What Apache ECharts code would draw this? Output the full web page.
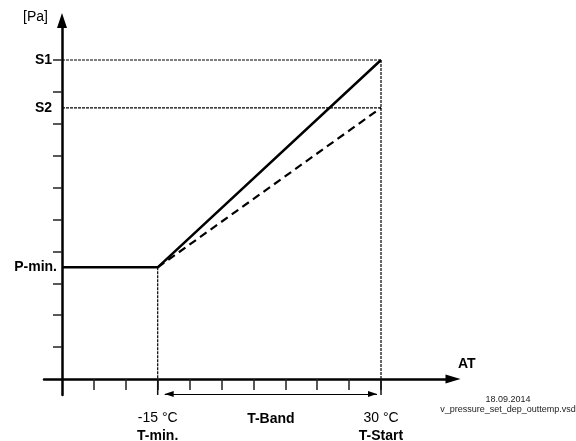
<!DOCTYPE html>
<html>
<head>
<meta charset="utf-8">
<script src="https://cdn.jsdelivr.net/npm/echarts@6/dist/echarts.min.js"></script>
<style>html,body{margin:0;padding:0;background:#fff}#c{width:576px;height:441px}</style>
</head>
<body>
<div id="c"></div>
<script>
// ---- data ----
const tempPoints = [-15, 30];                 // outdoor temperature (°C): T-min., T-Start
const tempValueLabels = ['-15 °C', '30 °C'];
const tempNameLabels = ['T-min.', 'T-Start'];
const ticksBelowTMin = 3;                     // x ticks between origin and T-min.
const ticksInBand = 7;                        // x ticks between T-min. and T-Start
const pressureLevels = [3.5, 8.5, 10];        // P-min., S2, S1 (y tick units)
const pressureLabels = ['P-min.', 'S2', 'S1'];
const yTickValues = [1, 2, 3, 4, 5, 6, 7, 8, 9, 10];
const bandLabel = 'T-Band';
const xAxisName = 'AT';
const yAxisName = '[Pa]';
const footnote = ['18.09.2014', 'v_pressure_set_dep_outtemp.vsd'];

const T_MIN = tempPoints[0], T_START = tempPoints[1];
const P_MIN = pressureLevels[0], S2 = pressureLevels[1], S1 = pressureLevels[2];
const X_STEP = (T_START - T_MIN) / ticksInBand;
const X_ORIGIN = T_MIN - ticksBelowTMin * X_STEP;
const xTickValues = [];
for (let k = 1; k <= ticksBelowTMin + ticksInBand; k++) xTickValues.push(X_ORIGIN + k * X_STEP);

// ---- layout (pixels) ----
const PX = 31.9;               // pixels per tick unit
const originPx = [62, 379];
const gridLeft = 44, gridRight = 453, gridTop = 20.5, gridBottom = 395;
const xMin = X_ORIGIN - (originPx[0] - gridLeft) / PX * X_STEP;
const xMax = X_ORIGIN + (gridRight - originPx[0]) / PX * X_STEP;
const yMin = -(gridBottom - originPx[1]) / PX;
const yMax = (originPx[1] - gridTop) / PX;
const yAxisOffset = -(originPx[0] - gridLeft);
const BELOW = yMin;            // bottom end of the y range (stub below the x axis)
const BAND_Y = -15 / PX;       // T-Band arrow level
const BAND_GAP = [7, 4];       // px gap between the arrow tips and the vertical lines
const bandFrom = T_MIN + BAND_GAP[0] / PX * X_STEP;
const bandTo = T_START - BAND_GAP[1] / PX * X_STEP;

const FONT = "'Liberation Sans', Arial, sans-serif";
const chart = echarts.init(document.getElementById('c'), null, {renderer: 'canvas'});

const thin = {color: '#000', width: 1.2, type: [3, 1]};
function seg(data, style) {
  return {type: 'line', data: data, symbol: 'none', silent: true, lineStyle: style, z: 2};
}

chart.setOption({
  animation: false,
  backgroundColor: '#fff',
  grid: {left: gridLeft, top: gridTop, right: 576 - gridRight, bottom: 441 - gridBottom,
         containLabel: false, outerBoundsMode: 'none'},
  xAxis: {
    type: 'value', min: xMin, max: xMax,
    name: xAxisName, nameLocation: 'end', nameGap: 5,
    nameTextStyle: {fontFamily: FONT, fontSize: 14, fontWeight: 'bold', color: '#000',
                    align: 'left', verticalAlign: 'bottom', padding: [0, 0, 8, 0]},
    axisLine: {onZero: true, symbol: ['none', 'triangle'], symbolSize: [9, 15],
               lineStyle: {color: '#000', width: 2.5}},
    axisTick: {show: true, inside: false, length: 11, customValues: xTickValues,
               lineStyle: {color: '#222', width: 1.5}},
    axisLabel: {show: true, customValues: tempPoints, margin: 14,
      formatter: function (v) {
        const i = tempPoints.findIndex(t => Math.abs(t - v) < 1e-6);
        return i < 0 ? '' : '{a|' + tempValueLabels[i] + '}\n{b|' + tempNameLabels[i] + '}';
      },
      rich: {
        a: {fontFamily: FONT, fontSize: 14, color: '#000', lineHeight: 18},
        b: {fontFamily: FONT, fontSize: 14, fontWeight: 'bold', color: '#000', lineHeight: 18}
      }},
    splitLine: {show: false}
  },
  yAxis: {
    type: 'value', min: yMin, max: yMax, position: 'left', offset: yAxisOffset,
    name: yAxisName, nameLocation: 'end', nameGap: 3,
    nameTextStyle: {fontFamily: FONT, fontSize: 14, color: '#000',
                    align: 'right', verticalAlign: 'middle', padding: [0, 14, 0, 0]},
    axisLine: {onZero: false, symbol: ['none', 'triangle'], symbolSize: [10, 15],
               lineStyle: {color: '#000', width: 2.5}},
    axisTick: {show: true, inside: false, length: 9, customValues: yTickValues,
               lineStyle: {color: '#222', width: 1.5}},
    axisLabel: {show: true, customValues: pressureLevels, margin: 5,
      formatter: function (v) {
        const i = pressureLevels.findIndex(p => Math.abs(p - v) < 1e-6);
        if (i < 0) return '';
        return (i === 0 ? '{p|' : '{s|') + pressureLabels[i] + '}';
      },
      rich: {
        p: {fontFamily: FONT, fontSize: 14, fontWeight: 'bold', color: '#000'},
        s: {fontFamily: FONT, fontSize: 14, fontWeight: 'bold', color: '#000', padding: [0, 5, 0, 0]}
      }},
    splitLine: {show: false}
  },
  series: [
    seg([[X_ORIGIN, S1], [T_START, S1]], thin),
    seg([[X_ORIGIN, S2], [T_START, S2]], thin),
    seg([[T_START, S1], [T_START, 0]], thin),
    seg([[T_MIN, P_MIN], [T_MIN, 0]], thin),
    seg([[T_START, 0], [T_START, BELOW]], {color: '#111', width: 1.5}),
    seg([[T_MIN, 0], [T_MIN, BELOW]], {color: '#111', width: 1.5}),
    seg([[T_MIN, P_MIN], [T_START, S2]], {color: '#000', width: 2.2, type: [8, 5]}),
    seg([[X_ORIGIN, P_MIN], [T_MIN, P_MIN], [T_START, S1]], {color: '#000', width: 2.5}),
    {
      type: 'line', data: [], silent: true,
      markLine: {
        silent: true, animation: false,
        symbol: ['triangle', 'triangle'], symbolSize: [6, 9],
        symbolOffset: [[0, 4.5], [0, 4.5]],
        lineStyle: {color: '#000', width: 1, type: 'solid'},
        label: {show: true, position: 'insideMiddleBottom', distance: 18, formatter: bandLabel,
                fontFamily: FONT, fontSize: 14, fontWeight: 'bold', color: '#000'},
        data: [[{coord: [bandFrom, BAND_Y]}, {coord: [bandTo, BAND_Y]}]]
      }
    }
  ],
  graphic: [
    {type: 'text', x: 508, y: 400, silent: true,
     style: {text: footnote[0], fontFamily: FONT, fontSize: 9, fill: '#222',
             textAlign: 'center', textVerticalAlign: 'middle'}},
    {type: 'text', x: 508, y: 410, silent: true,
     style: {text: footnote[1], fontFamily: FONT, fontSize: 9, fill: '#222',
             textAlign: 'center', textVerticalAlign: 'middle'}}
  ]
});
</script>
</body>
</html>
